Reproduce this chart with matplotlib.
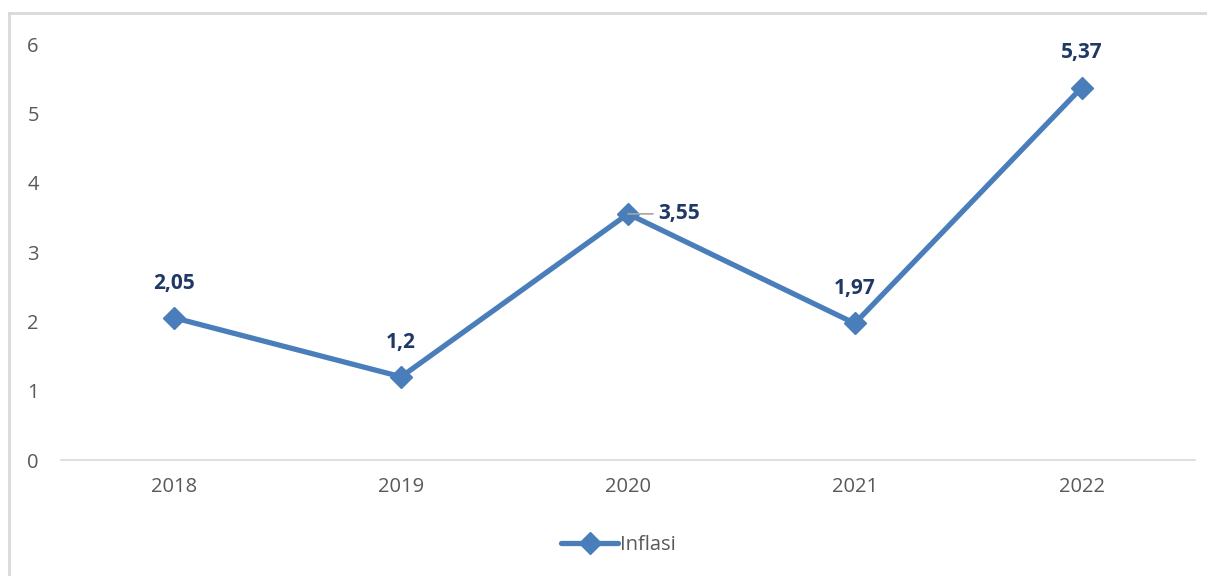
import matplotlib
matplotlib.use("Agg")
import matplotlib.pyplot as plt
from matplotlib.lines import Line2D

years = ["2018", "2019", "2020", "2021", "2022"]
inflasi = [2.05, 1.2, 3.55, 1.97, 5.37]
labels = ["2,05", "1,2", "3,55", "1,97", "5,37"]
series_name = "Inflasi"

plt.rcParams['font.family'] = ['Open Sans', 'DejaVu Sans']

fig = plt.figure(figsize=(12.07, 5.76), dpi=100)
ax = fig.add_axes([61/1207, 1-460/576, (1195-61)/1207, (460-44)/576])

line_color = "#4A7EBB"
x = list(range(len(years)))
ax.plot(x, inflasi, color=line_color, lw=3.8, marker="D", markersize=11,
        markerfacecolor=line_color, markeredgecolor=line_color, solid_capstyle="round")

for i, (v, lab) in enumerate(zip(inflasi, labels)):
    if i == 2:
        ax.annotate(lab, xy=(i, v), xytext=(22, 0), textcoords="offset points",
                    ha="left", va="center", fontsize=15, fontweight="bold", color="#1F3864",
                    arrowprops=dict(arrowstyle="-", color="#A6A6A6", lw=1.2, shrinkA=2, shrinkB=0))
    else:
        ax.annotate(lab, xy=(i, v), xytext=(0, 25), textcoords="offset points",
                    ha="center", va="center", fontsize=15, fontweight="bold", color="#1F3864")

ax.set_xlim(-0.5, 4.5)
ax.set_ylim(0, 6)
ax.set_xticks(x)
ax.set_xticklabels(years)
ax.set_yticks(range(0, 7))
for s in ["top", "right", "left"]:
    ax.spines[s].set_visible(False)
ax.spines["bottom"].set_color("#D9D9D9")
ax.spines["bottom"].set_linewidth(1.2)
ax.tick_params(axis="both", length=0, labelsize=14.5, colors="#595959")
ax.tick_params(axis="x", pad=12)
ax.tick_params(axis="y", pad=16)

handle = Line2D([0], [0], color=line_color, lw=3.8, marker="D", markersize=11,
                markerfacecolor=line_color, markeredgecolor=line_color, solid_capstyle="round")
fig.legend([handle], [series_name], loc="center", bbox_to_anchor=(0.5 + 15/1207, 1-545/576),
           frameon=False, fontsize=14.5, labelcolor="#595959", handlelength=2.8,
           handletextpad=0.1)

# chart border
fig.add_artist(Line2D([9/1207, 9/1207], [0, 1-13/576], transform=fig.transFigure,
                      color="#D9D9D9", lw=2))
fig.add_artist(Line2D([9/1207, 1], [1-13/576, 1-13/576], transform=fig.transFigure,
                      color="#D9D9D9", lw=2))

fig.savefig("out.png", dpi=100)
